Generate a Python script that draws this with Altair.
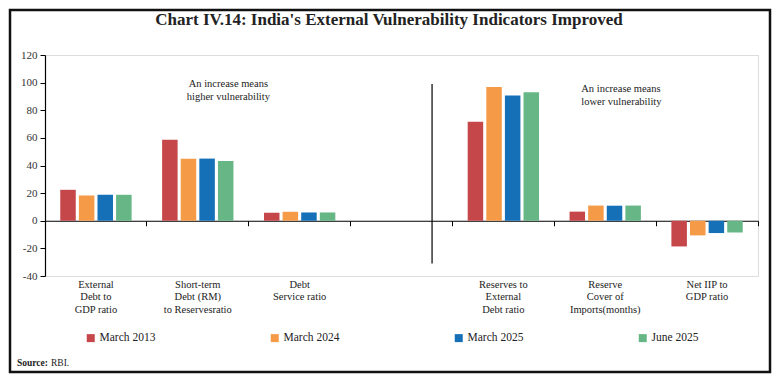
import altair as alt
import pandas as pd

# ---- data ----
categories = [
    "External|Debt to|GDP ratio",
    "Short-term|Debt (RM)|to Reservesratio",
    "Debt|Service ratio",
    " ",
    "Reserves to|External|Debt ratio",
    "Reserve|Cover of|Imports(months)",
    "Net IIP to|GDP ratio",
]
indicators = [c for c in categories if c.strip()]
series = ["March 2013", "March 2024", "March 2025", "June 2025"]
march_2013 = [22.4, 58.6, 5.8, 71.6, 6.6, -18.6]
march_2024 = [18.3, 44.8, 6.5, 96.9, 11.0, -10.6]
march_2025 = [18.8, 45.0, 6.0, 90.6, 10.9, -8.9]
june_2025 = [18.8, 43.2, 6.0, 93.1, 11.0, -8.5]
colors = ["#C6474A", "#F59B48", "#1570B8", "#66B686"]
y_ticks = [-40, -20, 0, 20, 40, 60, 80, 100, 120]
title_text = "Chart IV.14: India's External Vulnerability Indicators Improved"
note_left = "An increase means\nhigher vulnerability"
note_right = "An increase means\nlower vulnerability"

rows = []
for s, vals in zip(series, [march_2013, march_2024, march_2025, june_2025]):
    for c, v in zip(indicators, vals):
        rows.append({"cat": c, "series": s, "value": v})
df = pd.DataFrame(rows)

W, H = 713, 221
FONT = "Liberation Serif"
zero_offset = -(40 / 160) * H

xscale = alt.Scale(domain=categories, paddingInner=0, paddingOuter=0)
yscale = alt.Scale(domain=[-40, 120], nice=False)

yaxis = alt.Axis(values=y_ticks, grid=False, domainColor="black", tickColor="black",
                 domainWidth=1.2, tickSize=5, labelFont=FONT, labelFontSize=11,
                 labelColor="#333", labelPadding=3, title=None, orient="left",
                 labelExpr="'' + datum.value")

bars = alt.Chart(df).mark_bar().encode(
    x=alt.X("cat:N", scale=xscale,
            axis=alt.Axis(orient="bottom", domain=False, ticks=False,
                          labelExpr="split(datum.label, '|')", labelAngle=0,
                          labelFont=FONT, labelFontSize=10.5, labelLineHeight=12.5,
                          labelPadding=3, labelColor="#222", title=None, labelLimit=200)),
    xOffset=alt.XOffset("series:N", sort=series,
                        scale=alt.Scale(paddingInner=0.167, paddingOuter=0.82)),
    y=alt.Y("value:Q", scale=yscale, axis=yaxis, stack=None),
    color=alt.Color("series:N", sort=series,
                    scale=alt.Scale(domain=series, range=colors),
                    legend=alt.Legend(orient="none", legendX=40, legendY=277,
                                      direction="horizontal", columns=4,
                                      columnPadding=113, symbolType="square",
                                      symbolSize=64, symbolStrokeWidth=0,
                                      labelFont=FONT, labelFontSize=11.5,
                                      labelColor="#222", labelOffset=3, title=None)),
)

sep_df = pd.DataFrame({"cat": [" "], "top": [99], "bottom": [-31]})
sep = alt.Chart(sep_df).mark_rule(color="black", strokeWidth=1.2).encode(
    x=alt.X("cat:N", scale=xscale, bandPosition=0.8,
            axis=alt.Axis(orient="bottom", offset=zero_offset, labels=False,
                          domainColor="black", domainWidth=1.2, tickColor="black",
                          tickSize=5, bandPosition=1, title=None, grid=False)),
    y=alt.Y("top:Q", scale=yscale, axis=None),
    y2="bottom:Q",
)

one = pd.DataFrame({"k": [0]})

note1 = alt.Chart(one).mark_text(font=FONT, fontSize=10.5, color="#222", align="center",
                                 baseline="middle", lineBreak="\n", lineHeight=13).encode(
    x=alt.XDatum(categories[1], type="nominal", bandPosition=0.8, axis=None, scale=xscale),
    y=alt.YDatum(98.8, axis=None),
    text=alt.value(note_left),
)
note2 = alt.Chart(one).mark_text(font=FONT, fontSize=10.5, color="#222", align="left",
                                 baseline="middle", lineBreak="\n", lineHeight=13).encode(
    x=alt.XDatum(categories[5], type="nominal", bandPosition=0.265, axis=None, scale=xscale),
    y=alt.YDatum(95.6, axis=None),
    text=alt.value(note_right),
)

frame = alt.Chart(one).mark_rect(fill="transparent", stroke="#111", strokeWidth=2.5).encode(
    x=alt.value(-35), x2=alt.value(725), y=alt.value(-45), y2=alt.value(317)
)
title = alt.Chart(one).mark_text(font=FONT, fontSize=17, fontWeight="bold", color="#222",
                                 align="center", baseline="middle").encode(
    x=alt.value(344), y=alt.value(-35), text=alt.value(title_text)
)
src1 = alt.Chart(one).mark_text(font=FONT, fontSize=9.5, fontWeight="bold", color="#222",
                                align="left", baseline="middle").encode(
    x=alt.value(-28), y=alt.value(308), text=alt.value("Source:")
)
src2 = alt.Chart(one).mark_text(font=FONT, fontSize=9.5, color="#222",
                                align="left", baseline="middle").encode(
    x=alt.value(6), y=alt.value(308), text=alt.value("RBI.")
)

chart = alt.layer(frame, bars, sep, note1, note2, title, src1, src2).resolve_axis(
    x="independent", y="independent"
).properties(
    width=W, height=H,
    autosize=alt.AutoSizeParams(type="none"),
    padding={"left": 37, "top": 47, "right": 14, "bottom": 98},
).configure_view(stroke=None).configure(font=FONT)

chart.save("out.html", embed_options={"renderer": "svg", "actions": False})
